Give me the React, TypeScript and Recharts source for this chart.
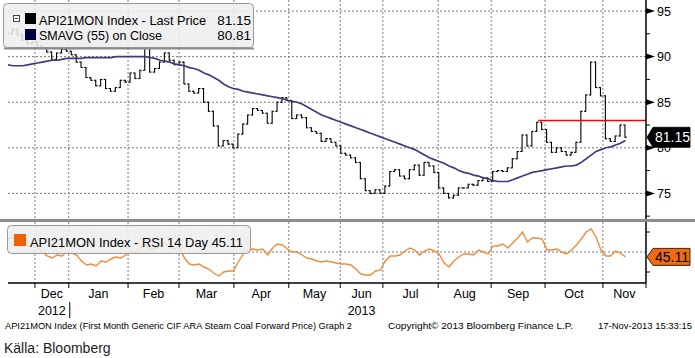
import React from "react";
import { ComposedChart, Bar, Line, XAxis, YAxis, CartesianGrid, ReferenceLine } from "recharts";

// ---- data (one entry every ~2 trading days, Nov-2012 .. 15-Nov-2013) ----
const priceClose = [
  92.5, 93.0, 92.4, 91.8, 91.4, 91.6, 91.2, 90.9, 90.5, 89.7,
  90.4, 90.8, 90.6, 90.2, 89.4, 88.8, 87.7, 87.4, 86.8, 87.5,
  86.5, 86.2, 86.6, 87.4, 87.2, 88.2, 87.6, 88.5, 91.0, 88.3,
  88.7, 89.4, 90.4, 89.6, 89.1, 89.4, 87.0, 86.2, 86.0, 86.5,
  85.0, 84.0, 82.4, 80.2, 80.8, 80.4, 80.0, 81.5, 82.6, 83.6,
  84.3, 84.1, 83.8, 82.7, 84.0, 85.0, 85.5, 85.2, 83.2, 83.6,
  83.3, 82.2, 81.8, 81.6, 80.7, 81.0, 80.6, 80.2, 79.4, 79.2,
  78.9, 78.4, 76.6, 75.3, 75.0, 75.4, 75.0, 75.8, 77.4, 77.6,
  76.9, 76.6, 77.6, 78.1, 77.0, 78.4, 78.0, 77.3, 75.6, 75.0,
  74.5, 74.8, 75.6, 75.6, 76.0, 75.9, 76.4, 76.7, 76.3, 77.4,
  77.5, 77.4, 77.8, 78.8, 79.6, 81.4, 80.2, 81.8, 82.8, 82.0,
  80.6, 79.5, 80.0, 79.6, 79.2, 79.5, 80.6, 84.0, 85.8, 89.4,
  86.6, 85.7, 81.0, 80.7, 81.3, 82.5, 81.15,
];

const sma55 = [
  89.1, 89.0, 89.0, 89.0, 89.1, 89.2, 89.3, 89.4, 89.5, 89.6,
  89.6, 89.7, 89.8, 89.8, 89.8, 89.8, 89.9, 89.9, 89.9, 89.9,
  89.9, 89.9, 90.0, 90.0, 90.0, 90.0, 90.0, 90.0, 90.0, 89.9,
  89.8, 89.6, 89.5, 89.4, 89.2, 89.1, 89.0, 88.8, 88.7, 88.5,
  88.2, 88.0, 87.7, 87.4, 87.0, 86.7, 86.5, 86.4, 86.2, 86.1,
  86.0, 85.9, 85.8, 85.7, 85.6, 85.5, 85.4, 85.2, 85.1, 85.0,
  84.8, 84.5, 84.2, 83.9, 83.6, 83.4, 83.2, 83.0, 82.8, 82.6,
  82.4, 82.2, 82.0, 81.8, 81.6, 81.4, 81.2, 81.0, 80.8, 80.6,
  80.4, 80.2, 80.0, 79.8, 79.5, 79.2, 78.9, 78.7, 78.5, 78.3,
  78.0, 77.8, 77.5, 77.3, 77.2, 77.0, 76.9, 76.7, 76.6, 76.4,
  76.3, 76.3, 76.3, 76.5, 76.7, 76.9, 77.1, 77.3, 77.4, 77.5,
  77.6, 77.7, 77.8, 77.9, 78.0, 78.0, 78.1, 78.4, 78.8, 79.2,
  79.6, 79.8, 80.0, 80.1, 80.3, 80.5, 80.81,
];

const rsi14 = [
  63, 64, 61, 58, 56, 57, 54, 50, 46, 44,
  47, 46, 50, 49, 47, 41, 37, 38, 36, 41,
  40, 43, 45, 44, 47, 51, 50, 54, 57, 52,
  54, 56, 59, 55, 53, 55, 44, 38, 37, 38,
  35, 33, 29, 26, 30, 31, 31, 40, 48, 52,
  53, 52, 53, 47, 54, 58, 57, 53, 50, 50,
  47, 44, 43, 41, 40, 41, 40, 39, 38, 38,
  37, 33, 28, 27, 27, 31, 32, 41, 46, 46,
  47, 51, 54, 52, 47, 51, 53, 51, 48, 39,
  35, 41, 45, 48, 48, 47, 52, 50, 48, 56,
  56, 58, 54, 59, 64, 70, 60, 64, 64, 63,
  52, 52, 53, 50, 48, 52, 57, 63, 70, 73,
  65, 52, 46, 46, 51, 49, 45.11,
];

const monthNames = ["Dec", "Jan", "Feb", "Mar", "Apr", "May", "Jun", "Jul", "Aug", "Sep", "Oct", "Nov"];
// month boundaries on the trading-day index scale (last one = end of axis)
const monthStarts = [5.5, 12.4, 24.5, 34.9, 46.1, 57.3, 67.8, 76.5, 87.8, 98.6, 109.6, 121.4, 130.2];
const yearLabels: Record<string, string> = { Dec: "2012", Jun: "2013" };
const yearBreakMonth = "Jan";

const priceTicks = [72.5, 75, 77.5, 80, 82.5, 85, 87.5, 90, 92.5, 95];
const priceGrid = [75, 80, 85, 90, 95];
const rsiTicks = [30, 50, 70];
const rsiGrid = [50];
const resistanceLevel = 83.0;
const resistanceStart = 108.2;

const X_DOMAIN: [number, number] = [0, 130.2];
const PRICE_DOMAIN: [number, number] = [71.97, 96.21];
const RSI_DOMAIN: [number, number] = [19, 80];

const lastPrice = priceClose[priceClose.length - 1];
const lastSma = sma55[sma55.length - 1];
const lastRsi = rsi14[rsi14.length - 1];

const rows = priceClose.map((c, i) => {
  const o = i === 0 ? c : priceClose[i - 1];
  return {
    i,
    open: o,
    close: c,
    range: [Math.min(o, c), Math.max(o, c)],
    sma: sma55[i],
    rsi: rsi14[i],
  };
});

const monthMids = monthNames.map((_, k) => (monthStarts[k] + monthStarts[k + 1]) / 2);
const xTicks = [...monthStarts, ...monthMids];

const FONT = "'Liberation Sans', Arial, sans-serif";

const OhlcShape = (props: any) => {
  const { x, y, width, height, payload } = props;
  if (x == null || y == null || !payload) return null;
  const top = Math.min(y, y + height);
  const bot = Math.max(y, y + height);
  const [lo, hi] = payload.range;
  const cx = x + width / 2;
  const yOf = (v: number) => (hi === lo ? top : top + ((hi - v) / (hi - lo)) * (bot - top));
  const yo = yOf(payload.open);
  const yc = yOf(payload.close);
  return (
    <g stroke="#000" strokeWidth={1.1}>
      <line x1={cx} x2={cx} y1={top - 0.5} y2={bot + 0.5} />
      <line x1={cx - 1.8} x2={cx} y1={yo} y2={yo} />
      <line x1={cx} x2={cx + 1.8} y1={yc} y2={yc} />
    </g>
  );
};

const PriceTick = (props: any) => {
  const { x, y, payload } = props;
  const v = payload.value;
  if (v % 5 !== 0) {
    return <line x1={x} x2={x + 4} y1={y} y2={y} stroke="#000" strokeWidth={1} />;
  }
  return (
    <g>
      <path d={`M${x},${y - 3} L${x + 9},${y} L${x},${y + 3} Z`} fill="#000" />
      <text x={x + 11} y={y + 4.5} fontSize={12.5} fontFamily={FONT} fill="#000">
        {v}
      </text>
    </g>
  );
};

const RsiTick = (props: any) => {
  const { x, y, payload } = props;
  if (payload.value === 50) return <g />;
  return <line x1={x} x2={x + 4} y1={y} y2={y} stroke="#000" strokeWidth={1} />;
};

const MonthTick = (props: any) => {
  const { x, y, payload } = props;
  const v = payload.value;
  const bi = monthStarts.indexOf(v);
  if (bi >= 0) {
    const name = monthNames[bi];
    return (
      <g>
        <line x1={x} x2={x} y1={y} y2={y + 5} stroke="#000" strokeWidth={1} />
        {name === yearBreakMonth ? (
          <line x1={x + 1} x2={x + 1} y1={y + 19} y2={y + 35} stroke="#000" strokeWidth={1} />
        ) : null}
      </g>
    );
  }
  const mi = monthMids.indexOf(v);
  if (mi < 0) return <g />;
  const name = monthNames[mi];
  return (
    <g>
      <text x={x} y={y + 15} textAnchor="middle" fontSize={12.5} fontFamily={FONT} fill="#000">
        {name}
      </text>
      {yearLabels[name] ? (
        <text x={x} y={y + 32} textAnchor="middle" fontSize={12.5} fontFamily={FONT} fill="#000">
          {yearLabels[name]}
        </text>
      ) : null}
    </g>
  );
};

const ValueTag = (props: any) => {
  const { viewBox, text, bg, fg, h } = props;
  if (!viewBox) return null;
  const x0 = viewBox.x + viewBox.width + 1;
  const yc = viewBox.y;
  const w = 43;
  const d = `M${x0},${yc} L${x0 + 6},${yc - h / 2} L${x0 + w},${yc - h / 2} L${x0 + w},${yc + h / 2} L${x0 + 6},${yc + h / 2} Z`;
  return (
    <g>
      <path d={d} fill={bg} stroke="#000" strokeWidth={0.8} />
      <text x={x0 + 8} y={yc + 5} fontSize={14} fontFamily={FONT} fill={fg}>
        {text}
      </text>
    </g>
  );
};

export default function App() {
  return (
    <div style={{ position: "absolute", left: 0, top: 0, width: 695, height: 358, background: "#fff", overflow: "hidden" }}>
      <div style={{ position: "absolute", left: 0, top: 0 }}>
        <ComposedChart width={695} height={221} data={rows} margin={{ top: 0, right: 0, bottom: 0, left: 8 }}>
          <CartesianGrid
            stroke="#7a7a7a"
            strokeDasharray="2 2"
            horizontalValues={priceGrid}
            verticalValues={monthStarts.slice(0, 12)}
          />
          <XAxis type="number" dataKey="i" domain={X_DOMAIN} allowDataOverflow hide />
          <YAxis
            orientation="right"
            domain={PRICE_DOMAIN}
            allowDataOverflow
            ticks={priceTicks}
            interval={0}
            width={49}
            tickSize={0}
            tickMargin={0}
            tickLine={false}
            axisLine={{ stroke: "#000", strokeWidth: 1.5 }}
            tick={<PriceTick />}
          />
          <Bar dataKey="range" barSize={4} shape={<OhlcShape />} isAnimationActive={false} />
          <Line
            dataKey="sma"
            type="linear"
            stroke="#3d3d7c"
            strokeWidth={1.7}
            dot={false}
            isAnimationActive={false}
          />
          <ReferenceLine
            segment={[
              { x: resistanceStart, y: resistanceLevel },
              { x: X_DOMAIN[1], y: resistanceLevel },
            ]}
            stroke="#ff0000"
            strokeWidth={1.5}
          />
          <ReferenceLine
            y={lastPrice}
            stroke="none"
            label={<ValueTag text={lastPrice.toFixed(2)} bg="#000" fg="#fff" h={20} />}
          />
        </ComposedChart>
      </div>
      <div style={{ position: "absolute", left: 0, top: 222 }}>
        <ComposedChart width={695} height={100} data={rows} margin={{ top: 0, right: 0, bottom: 0, left: 8 }}>
          <CartesianGrid
            stroke="#7a7a7a"
            strokeDasharray="2 2"
            horizontalValues={rsiGrid}
            verticalValues={monthStarts.slice(0, 12)}
          />
          <XAxis
            type="number"
            dataKey="i"
            domain={X_DOMAIN}
            allowDataOverflow
            ticks={xTicks}
            interval={0}
            height={39}
            tickSize={0}
            tickMargin={0}
            tickLine={false}
            axisLine={{ stroke: "#000", strokeWidth: 1.5 }}
            tick={<MonthTick />}
          />
          <YAxis
            orientation="right"
            domain={RSI_DOMAIN}
            allowDataOverflow
            ticks={rsiTicks}
            interval={0}
            width={49}
            tickSize={0}
            tickMargin={0}
            tickLine={false}
            axisLine={{ stroke: "#000", strokeWidth: 1.5 }}
            tick={<RsiTick />}
          />
          <Line
            dataKey="rsi"
            type="linear"
            stroke="#f08a3c"
            strokeWidth={1.4}
            dot={false}
            isAnimationActive={false}
          />
          <ReferenceLine
            y={lastRsi}
            stroke="none"
            label={<ValueTag text={lastRsi.toFixed(2)} bg="#f06a10" fg="#000" h={17} />}
          />
        </ComposedChart>
      </div>
      <svg
        width={695}
        height={358}
        style={{ position: "absolute", left: 0, top: 0, pointerEvents: "none" }}
        fontFamily={FONT}
      >
        {/* panel separator */}
        <rect x={0} y={219} width={695} height={3} fill="#8c8c8c" />
        {/* price legend */}
        <rect x={3.5} y={3.5} width={250} height={44} rx={4} fill="#eeeeee" fillOpacity={0.86} stroke="#9a9a9a" />
        <rect x={4} y={47.5} width={250} height={2} fill="#8a8a8a" />
        <rect x={13.5} y={15.5} width={6} height={6} fill="#fff" stroke="#444" strokeWidth={1} />
        <line x1={15} x2={18} y1={18.5} y2={18.5} stroke="#444" strokeWidth={1} />
        <rect x={25} y={13} width={11} height={11} fill="#000" />
        <text x={39} y={25} fontSize={13} textLength={167} lengthAdjust="spacingAndGlyphs" fill="#000">
          API21MON Index - Last Price
        </text>
        <text x={251} y={25} fontSize={13.5} textAnchor="end" fill="#000">
          {lastPrice.toFixed(2)}
        </text>
        <rect x={25} y={29} width={11} height={11} fill="#000040" />
        <text x={39} y={40} fontSize={13} textLength={123} lengthAdjust="spacingAndGlyphs" fill="#000">
          SMAVG (55) on Close
        </text>
        <text x={251} y={40} fontSize={13.5} textAnchor="end" fill="#000">
          {lastSma.toFixed(2)}
        </text>
        {/* RSI legend */}
        <rect x={7.5} y={225.5} width={243} height={28} rx={4} fill="#eeeeee" fillOpacity={0.86} stroke="#9a9a9a" />
        <rect x={14} y={234} width={12} height={12} fill="#f06000" />
        <text x={30} y={247} fontSize={13.5} textLength={213} lengthAdjust="spacingAndGlyphs" fill="#000">
          {`API21MON Index - RSI 14 Day ${lastRsi.toFixed(2)}`}
        </text>
        {/* footer */}
        <text x={5} y={329} fontSize={9} textLength={347} lengthAdjust="spacingAndGlyphs" fill="#000">
          API21MON Index (First Month Generic CIF ARA Steam Coal Forward Price) Graph 2
        </text>
        <text x={388} y={329} fontSize={9} textLength={185} lengthAdjust="spacingAndGlyphs" fill="#000">
          Copyright© 2013 Bloomberg Finance L.P.
        </text>
        <text x={598} y={329} fontSize={9} textLength={94} lengthAdjust="spacingAndGlyphs" fill="#000">
          17-Nov-2013 15:33:15
        </text>
        <text x={4} y={353} fontSize={14} fill="#222">
          Källa: Bloomberg
        </text>
      </svg>
    </div>
  );
}
